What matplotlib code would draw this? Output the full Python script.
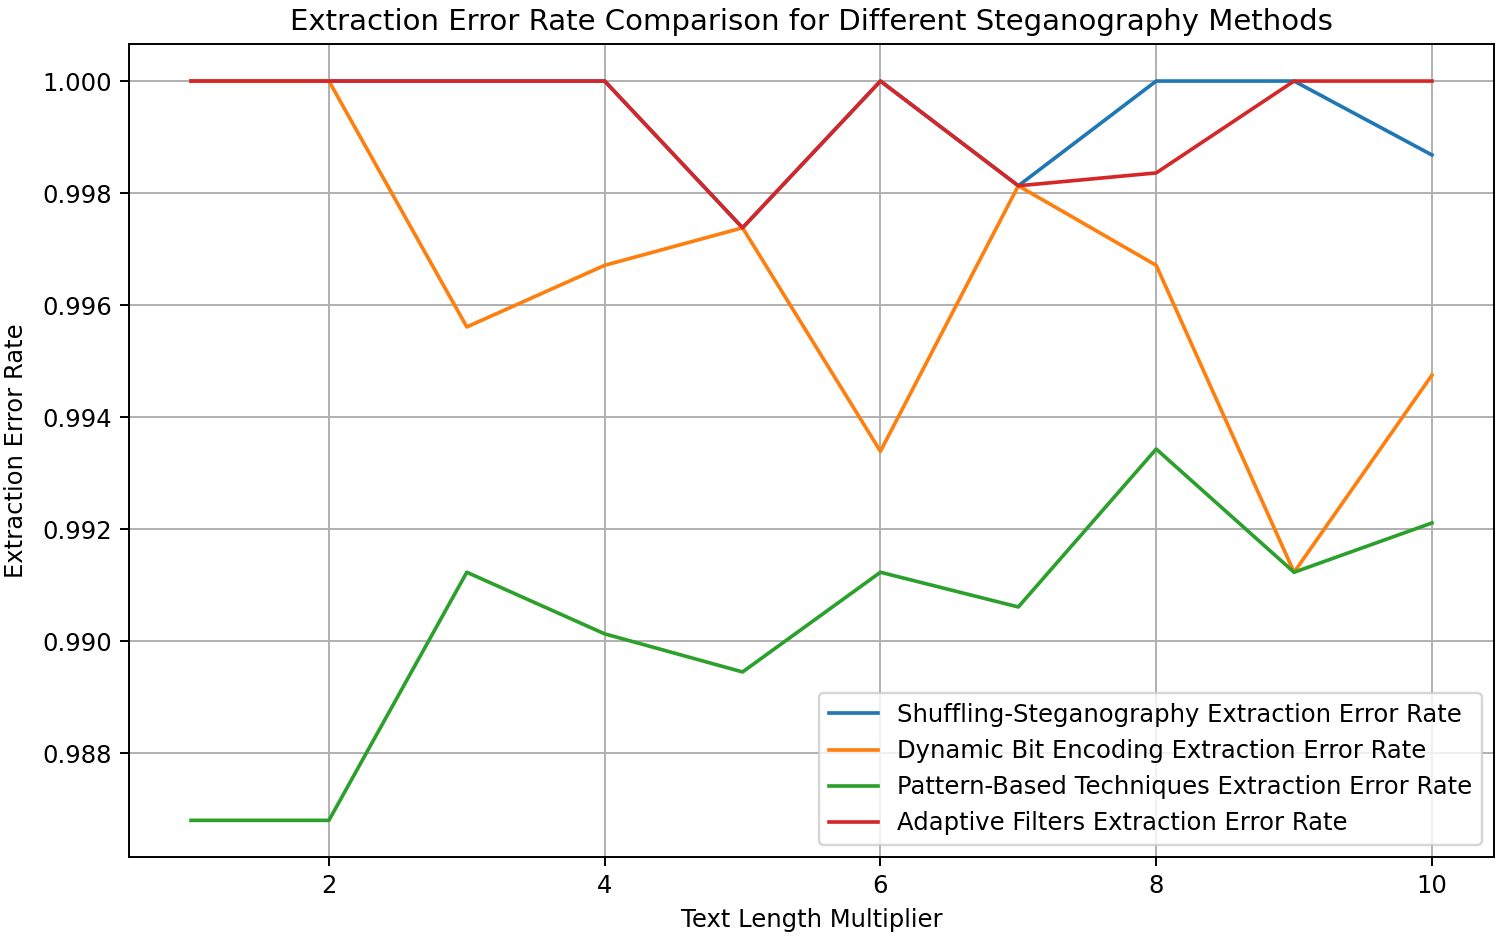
import matplotlib
matplotlib.use("Agg")
import matplotlib.pyplot as plt

# Text length multipliers on the x axis
multipliers = [1, 2, 3, 4, 5, 6, 7, 8, 9, 10]

# Extraction error rate per method
shuffling = [1.0, 1.0, 1.0, 1.0, 0.99738, 1.0, 0.99813, 1.0, 1.0, 0.99868]
dynamic_bit = [1.0, 1.0, 0.99561, 0.99671, 0.99738, 0.99339, 0.99813,
               0.99671, 0.99123, 0.99475]
pattern_based = [0.98680, 0.98680, 0.99123, 0.99013, 0.98945, 0.99123,
                 0.99061, 0.99343, 0.99123, 0.99211]
adaptive = [1.0, 1.0, 1.0, 1.0, 0.99738, 1.0, 0.99813, 0.99836, 1.0, 1.0]

series = [
    ("Shuffling-Steganography Extraction Error Rate", shuffling),
    ("Dynamic Bit Encoding Extraction Error Rate", dynamic_bit),
    ("Pattern-Based Techniques Extraction Error Rate", pattern_based),
    ("Adaptive Filters Extraction Error Rate", adaptive),
]

DPI = 175
fig, ax = plt.subplots(figsize=(1500 / DPI, 938 / DPI), dpi=DPI)

for label, values in series:
    ax.plot(multipliers, values, label=label)

ax.set_title("Extraction Error Rate Comparison for Different Steganography Methods")
ax.set_xlabel("Text Length Multiplier")
ax.set_ylabel("Extraction Error Rate", labelpad=6)
ax.legend(loc="lower right")
ax.grid(True)

fig.subplots_adjust(left=0.086, right=0.996, top=0.953, bottom=0.086)
fig.savefig("out.png", dpi=DPI)
